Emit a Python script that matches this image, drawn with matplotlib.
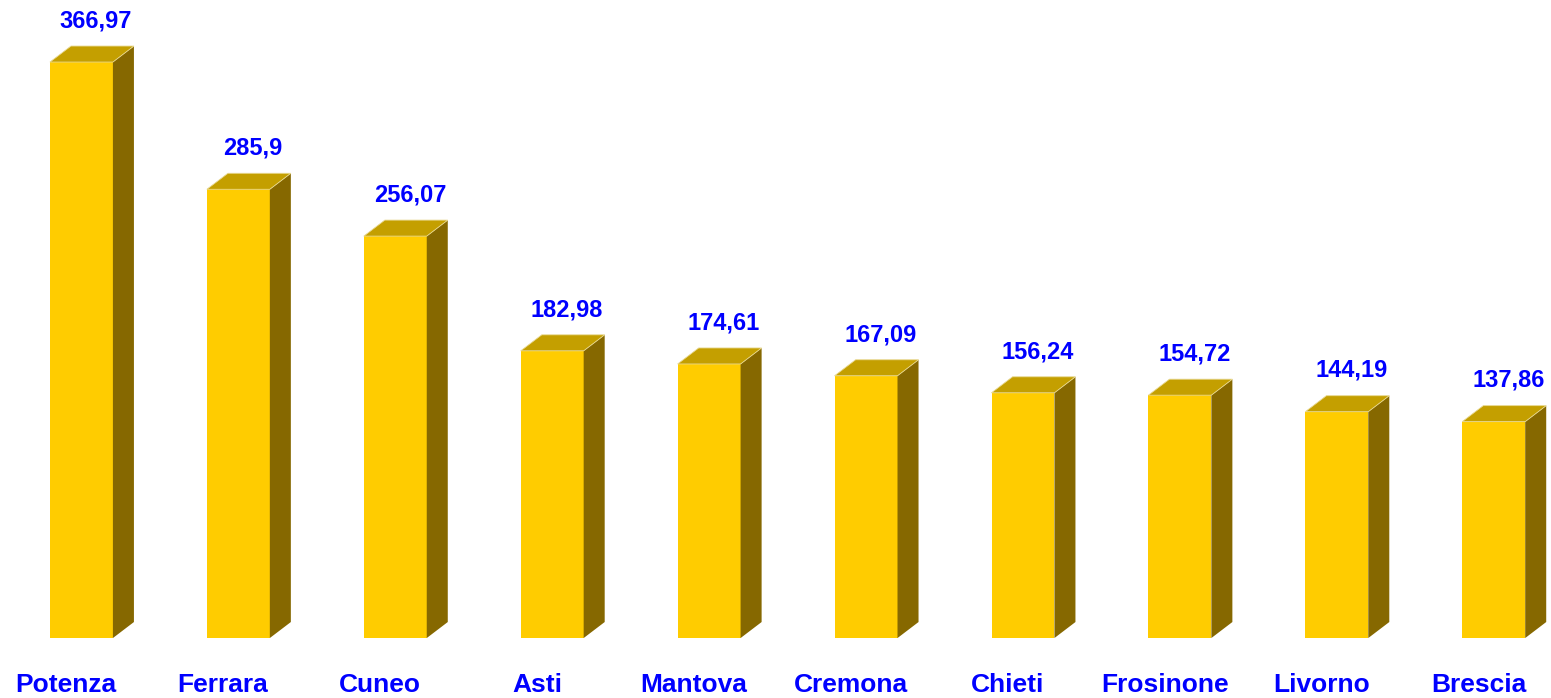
import numpy as np
import matplotlib.pyplot as plt
from matplotlib.patches import Polygon

# Data
cities = ['Potenza', 'Ferrara', 'Cuneo', 'Asti', 'Mantova',
          'Cremona', 'Chieti', 'Frosinone', 'Livorno', 'Brescia']
values = [366.97, 285.9, 256.07, 182.98, 174.61,
          167.09, 156.24, 154.72, 144.19, 137.86]
value_labels = ['366,97', '285,9', '256,07', '182,98', '174,61',
                '167,09', '156,24', '154,72', '144,19', '137,86']

# Colours of the three visible faces
front_col = '#FFCC00'
top_col = '#C49F00'
side_col = '#866800'
text_col = '#0000FF'

fig = plt.figure(figsize=(15.51, 6.98), dpi=100)
ax = fig.add_axes([0, 0, 1, 1])
ax.set_xlim(-0.519, 9.365)
ax.set_ylim(-38.2, 406.5)
ax.axis('off')

width = 0.401
dx = 0.134   # depth of the pseudo-3D box, data units
dy = 10.2

x = np.arange(len(cities))
ax.bar(x, values, width=width, color=front_col, linewidth=0, zorder=2)

for i, v in enumerate(values):
    x0 = i - width / 2
    x1 = i + width / 2
    side = Polygon([(x1, 0), (x1 + dx, dy), (x1 + dx, v + dy), (x1, v)],
                   closed=True, facecolor=side_col, edgecolor='none', zorder=2)
    top = Polygon([(x0, v), (x0 + dx, v + dy), (x1 + dx, v + dy), (x1, v)],
                  closed=True, facecolor=top_col, edgecolor='#E8D890',
                  linewidth=0.6, zorder=2)
    ax.add_patch(side)
    ax.add_patch(top)

    ax.annotate(value_labels[i], xy=(i, v), xytext=(10.5, 25), textcoords='offset points',
                ha='center', va='baseline', fontsize=17, fontweight='bold',
                family='Liberation Sans', color=text_col)
    ax.annotate(cities[i], xy=(i, 0), xytext=(-11, -38.5), textcoords='offset points',
                ha='center', va='baseline', fontsize=19, fontweight='bold',
                family='Liberation Sans', color=text_col)

fig.savefig('out.png', dpi=100)
